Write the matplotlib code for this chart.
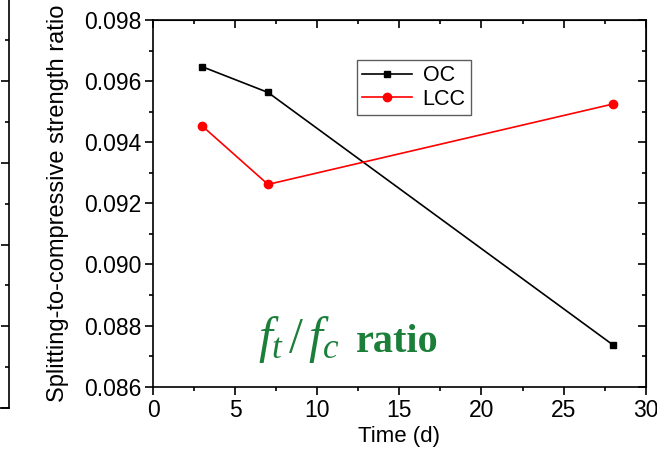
import matplotlib
matplotlib.use("Agg")
import matplotlib.pyplot as plt
from matplotlib.ticker import MultipleLocator, FormatStrFormatter

plt.rcParams["font.family"] = ["Liberation Sans", "DejaVu Sans"]
plt.rcParams["mathtext.fontset"] = "custom"
plt.rcParams["mathtext.it"] = "Liberation Serif:italic"
plt.rcParams["mathtext.rm"] = "Liberation Serif"

# Curing age (days) and splitting-tensile / compressive strength ratios
time_days = [3, 7, 28]
ratio_oc = [0.09647, 0.09563, 0.08737]
ratio_lcc = [0.09453, 0.09262, 0.09525]
series_labels = ["OC", "LCC"]

W, H = 657, 449
fig = plt.figure(figsize=(W / 100, H / 100), dpi=100)

# Edge of the neighbouring panel on the left
side_h = 1.2
side = fig.add_axes([-0.5, 41 / H, 0.5 + 9 / W, side_h])
side.set_ylim(0, side_h * H / 81.7)
for s in ("left", "top"):
    side.spines[s].set_visible(False)
side.spines["right"].set_linewidth(1.2)
side.spines["bottom"].set_linewidth(1.2)
side.yaxis.set_major_locator(MultipleLocator(1))
side.yaxis.set_minor_locator(MultipleLocator(0.5))
side.tick_params(axis="y", which="both", direction="in", left=False, right=True,
                 labelleft=False, labelright=False, width=1.2)
side.tick_params(axis="y", which="major", length=6)
side.tick_params(axis="y", which="minor", length=3)
side.set_xticks([])
side.patch.set_visible(False)

ax = fig.add_axes([153 / W, (H - 386.7) / H, 492.7 / W, 366.7 / H])

ax.plot(time_days, ratio_oc, color="black", marker="s", markersize=5,
        linewidth=1.2, label=series_labels[0])
ax.plot(time_days, ratio_lcc, color="red", marker="o", markersize=6,
        linewidth=1.2, label=series_labels[1])

ax.set_xlim(0, 30)
ax.set_ylim(0.086, 0.098)
ax.xaxis.set_major_locator(MultipleLocator(5))
ax.xaxis.set_minor_locator(MultipleLocator(2.5))
ax.yaxis.set_major_locator(MultipleLocator(0.002))
ax.yaxis.set_minor_locator(MultipleLocator(0.001))
ax.yaxis.set_major_formatter(FormatStrFormatter("%.3f"))

for s in ax.spines.values():
    s.set_linewidth(1.2)
ax.tick_params(which="both", direction="out", top=False, right=False,
               labelsize=16.5, width=1.2, colors="black", pad=2.5)
ax.tick_params(which="major", length=6)
ax.tick_params(which="minor", length=3)

# Inward ticks along the top and right edges
sec_x = ax.secondary_xaxis("top")
sec_x.xaxis.set_major_locator(MultipleLocator(5))
sec_x.xaxis.set_minor_locator(MultipleLocator(2.5))
sec_x.tick_params(which="both", direction="in", labeltop=False, width=1.2)
sec_x.tick_params(which="major", length=6)
sec_x.tick_params(which="minor", length=3)
sec_y = ax.secondary_yaxis("right")
sec_y.yaxis.set_major_locator(MultipleLocator(0.002))
sec_y.yaxis.set_minor_locator(MultipleLocator(0.001))
sec_y.tick_params(which="both", direction="in", labelright=False, width=1.2)
sec_y.tick_params(which="major", length=6)
sec_y.tick_params(which="minor", length=3)

ax.set_xlabel("Time (d)", fontsize=16, labelpad=3)
ax.set_ylabel("Splitting-to-compressive strength ratio", fontsize=17, labelpad=11)

leg = ax.legend(loc="upper left", bbox_to_anchor=(0.414, 0.891), borderaxespad=0,
                fontsize=15.5, frameon=True, fancybox=False, handlelength=2.3,
                handletextpad=0.5, labelspacing=0.1, borderpad=0.25)
leg.get_frame().set_edgecolor("#333333")
leg.get_frame().set_linewidth(1.0)

ax.text(0.214, 0.095, r"$f_t\,/\,f_c$", transform=ax.transAxes,
        fontsize=36, color="#1b7f3a", ha="left", va="baseline")
ax.text(0.412, 0.095, "ratio", transform=ax.transAxes,
        fontsize=29, color="#1b7f3a", fontweight="bold",
        family="Liberation Serif", ha="left", va="baseline")

fig.savefig("out.png", dpi=100)
